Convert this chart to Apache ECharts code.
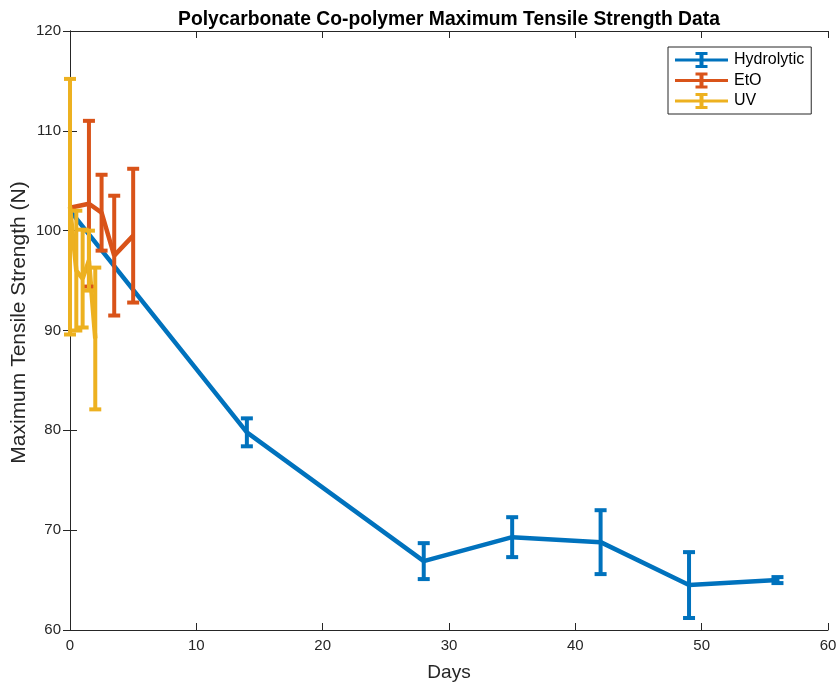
<!DOCTYPE html>
<html>
<head>
<meta charset="utf-8">
<script src="https://cdn.jsdelivr.net/npm/echarts@6/dist/echarts.min.js"></script>
<style>
  html, body { margin: 0; padding: 0; background: #fff; }
  #chart { width: 836px; height: 686px; }
</style>
</head>
<body>
<div id="chart"></div>
<script>
// Tensile strength measurements (N) by exposure days, mean and error half-width
const hydroDays = [0, 14, 28, 35, 42, 49, 56];
const hydroMean = [102.0, 79.8, 66.9, 69.3, 68.8, 64.5, 65.0];
const hydroErr  = [0, 1.4, 1.8, 2.0, 3.2, 3.3, 0.3];

const etoDays = [0, 1.5, 2.5, 3.5, 5];
const etoMean = [102.3, 102.7, 101.8, 97.5, 99.5];
const etoErr  = [0, 8.3, 3.8, 6.0, 6.7];

const uvDays = [0, 0.5, 1, 1.5, 2];
const uvMean = [102.4, 96.0, 95.2, 97.0, 89.2];
const uvErr  = [12.8, 6.0, 4.9, 3.0, 7.1];

const xTicks = [0, 10, 20, 30, 40, 50, 60];
const yTicks = [60, 70, 80, 90, 100, 110, 120];

const seriesDefs = [
  { name: 'Hydrolytic', color: '#0072BD', days: hydroDays, mean: hydroMean, err: hydroErr },
  { name: 'EtO',        color: '#D95319', days: etoDays,   mean: etoMean,   err: etoErr },
  { name: 'UV',         color: '#EDB120', days: uvDays,    mean: uvMean,    err: uvErr }
];

const FONT = '"Liberation Sans", Arial, Helvetica, sans-serif';
const AXIS_COLOR = '#262626';
const LINE_W = 4.5;
const CAP_HALF = 6;

function errorBarRenderer(color) {
  return function (params, api) {
    const x = api.value(0);
    if (api.value(1) === api.value(2)) {
      return { type: 'group', children: [] };
    }
    const lo = api.coord([x, api.value(1)]);
    const hi = api.coord([x, api.value(2)]);
    const style = { stroke: color, lineWidth: 4, lineCap: 'butt' };
    return {
      type: 'group',
      children: [
        { type: 'line', shape: { x1: lo[0], y1: lo[1], x2: hi[0], y2: hi[1] }, style: style },
        { type: 'line', shape: { x1: hi[0] - CAP_HALF, y1: hi[1], x2: hi[0] + CAP_HALF, y2: hi[1] }, style: style },
        { type: 'line', shape: { x1: lo[0] - CAP_HALF, y1: lo[1], x2: lo[0] + CAP_HALF, y2: lo[1] }, style: style }
      ]
    };
  };
}

const series = [];
seriesDefs.forEach(function (d) {
  series.push({
    name: d.name,
    type: 'line',
    data: d.days.map(function (x, i) { return [x, d.mean[i]]; }),
    showSymbol: false,
    symbol: 'none',
    lineStyle: { color: d.color, width: LINE_W },
    itemStyle: { color: d.color },
    animation: false,
    z: 2
  });
  series.push({
    name: d.name,
    type: 'custom',
    renderItem: errorBarRenderer(d.color),
    data: d.days.map(function (x, i) { return [x, d.mean[i] - d.err[i], d.mean[i] + d.err[i]]; }),
    encode: { x: 0, y: [1, 2] },
    itemStyle: { color: d.color },
    animation: false,
    z: 3
  });
});

// Legend glyph: horizontal line with an error-bar "I" in the middle
const legendIcon = 'path://M0,6.5h53v3H0z M20.5,0h12v3h-4v10h4v3h-12v-3h4v-10h-4z';

const chart = echarts.init(document.getElementById('chart'), null, { renderer: 'canvas' });
chart.setOption({
  backgroundColor: '#ffffff',
  animation: false,
  title: {
    text: 'Polycarbonate Co-polymer Maximum Tensile Strength Data',
    left: 444, top: 5, textAlign: 'center',
    textStyle: { fontFamily: FONT, fontSize: 19.3, fontWeight: 'bold', color: '#000' }
  },
  legend: {
    orient: 'vertical',
    left: 668, top: 47,
    padding: [5, 7, 5, 7],
    itemGap: 4.5,
    itemWidth: 53,
    itemHeight: 16,
    borderColor: AXIS_COLOR,
    borderWidth: 1,
    backgroundColor: '#fff',
    data: seriesDefs.map(function (d) {
      return { name: d.name, icon: legendIcon, itemStyle: { color: d.color } };
    }),
    textStyle: { fontFamily: FONT, fontSize: 16, color: '#000', padding: [0, 0, 0, 1] }
  },
  grid: { left: 70, right: 8, top: 31, bottom: 56, show: false, outerBoundsMode: 'none', containLabel: false },
  xAxis: [{
    type: 'value', min: xTicks[0], max: xTicks[xTicks.length - 1], interval: 10,
    name: 'Days', nameLocation: 'middle', nameGap: 33, nameMoveOverlap: false,
    nameTextStyle: { fontFamily: FONT, fontSize: 19, color: AXIS_COLOR },
    axisLine: { show: true, lineStyle: { color: AXIS_COLOR, width: 1 } },
    axisTick: { show: true, inside: true, length: 7, lineStyle: { color: AXIS_COLOR } },
    axisLabel: { fontFamily: FONT, fontSize: 15, color: AXIS_COLOR, margin: 8 },
    splitLine: { show: false }
  }, {
    type: 'value', position: 'top', min: xTicks[0], max: xTicks[xTicks.length - 1], interval: 10,
    axisLine: { show: true, lineStyle: { color: AXIS_COLOR, width: 1 } },
    axisTick: { show: true, inside: true, length: 7, lineStyle: { color: AXIS_COLOR } },
    axisLabel: { show: false },
    splitLine: { show: false }
  }],
  yAxis: [{
    type: 'value', min: yTicks[0], max: yTicks[yTicks.length - 1], interval: 10,
    name: 'Maximum Tensile Strength (N)', nameLocation: 'middle', nameGap: 40, nameRotate: 90,
    nameMoveOverlap: false,
    nameTextStyle: { fontFamily: FONT, fontSize: 21, color: AXIS_COLOR, padding: [0, 0, 0, 16] },
    axisLine: { show: true, lineStyle: { color: AXIS_COLOR, width: 1 } },
    axisTick: { show: true, inside: true, length: 7, lineStyle: { color: AXIS_COLOR } },
    axisLabel: { fontFamily: FONT, fontSize: 15, color: AXIS_COLOR, margin: 9 },
    splitLine: { show: false }
  }, {
    type: 'value', position: 'right', min: yTicks[0], max: yTicks[yTicks.length - 1], interval: 10,
    axisLine: { show: true, lineStyle: { color: AXIS_COLOR, width: 1 } },
    axisTick: { show: true, inside: true, length: 7, lineStyle: { color: AXIS_COLOR } },
    axisLabel: { show: false },
    splitLine: { show: false }
  }],
  series: series
});
</script>
</body>
</html>
